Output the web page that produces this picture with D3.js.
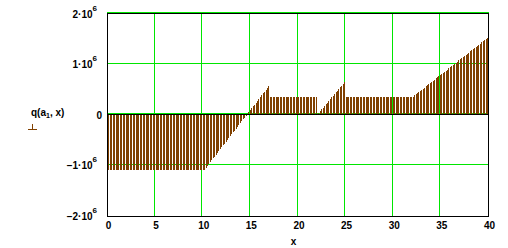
<!DOCTYPE html>
<html>
<head>
<meta charset="utf-8">
<script src="https://cdn.jsdelivr.net/npm/d3@7"></script>
<style>
body { margin: 0; background: #fff; }
text { font-family: "Liberation Sans", Arial, sans-serif; font-weight: bold; font-size: 10px; fill: #000; }
</style>
</head>
<body>
<svg id="chart" width="508" height="248"></svg>
<script>
// sample positions x (range variable 0, 0.15 .. 39.9)
var xVals = [
  0,0.15,0.3,0.45,0.6,0.75,0.9,1.05,1.2,1.35,1.5,1.65,1.8,1.95,2.1,2.25,2.4,2.55,2.7,2.85,
  3,3.15,3.3,3.45,3.6,3.75,3.9,4.05,4.2,4.35,4.5,4.65,4.8,4.95,5.1,5.25,5.4,5.55,5.7,5.85,
  6,6.15,6.3,6.45,6.6,6.75,6.9,7.05,7.2,7.35,7.5,7.65,7.8,7.95,8.1,8.25,8.4,8.55,8.7,8.85,
  9,9.15,9.3,9.45,9.6,9.75,9.9,10.05,10.2,10.35,10.5,10.65,10.8,10.95,11.1,11.25,11.4,11.55,11.7,11.85,
  12,12.15,12.3,12.45,12.6,12.75,12.9,13.05,13.2,13.35,13.5,13.65,13.8,13.95,14.1,14.25,14.4,14.55,14.7,14.85,
  15,15.15,15.3,15.45,15.6,15.75,15.9,16.05,16.2,16.35,16.5,16.65,16.8,16.95,17.1,17.25,17.4,17.55,17.7,17.85,
  18,18.15,18.3,18.45,18.6,18.75,18.9,19.05,19.2,19.35,19.5,19.65,19.8,19.95,20.1,20.25,20.4,20.55,20.7,20.85,
  21,21.15,21.3,21.45,21.6,21.75,21.9,22.05,22.2,22.35,22.5,22.65,22.8,22.95,23.1,23.25,23.4,23.55,23.7,23.85,
  24,24.15,24.3,24.45,24.6,24.75,24.9,25.05,25.2,25.35,25.5,25.65,25.8,25.95,26.1,26.25,26.4,26.55,26.7,26.85,
  27,27.15,27.3,27.45,27.6,27.75,27.9,28.05,28.2,28.35,28.5,28.65,28.8,28.95,29.1,29.25,29.4,29.55,29.7,29.85,
  30,30.15,30.3,30.45,30.6,30.75,30.9,31.05,31.2,31.35,31.5,31.65,31.8,31.95,32.1,32.25,32.4,32.55,32.7,32.85,
  33,33.15,33.3,33.45,33.6,33.75,33.9,34.05,34.2,34.35,34.5,34.65,34.8,34.95,35.1,35.25,35.4,35.55,35.7,35.85,
  36,36.15,36.3,36.45,36.6,36.75,36.9,37.05,37.2,37.35,37.5,37.65,37.8,37.95,38.1,38.25,38.4,38.55,38.7,38.85,
  39,39.15,39.3,39.45,39.6,39.75,39.9
];

// q(a1, x) in units of 10^6
var qVals = [
  -1.09,-1.09,-1.09,-1.09,-1.09,-1.09,-1.09,-1.09,-1.09,-1.09,
  -1.09,-1.09,-1.09,-1.09,-1.09,-1.09,-1.09,-1.09,-1.09,-1.09,
  -1.09,-1.09,-1.09,-1.09,-1.09,-1.09,-1.09,-1.09,-1.09,-1.09,
  -1.09,-1.09,-1.09,-1.09,-1.09,-1.09,-1.09,-1.09,-1.09,-1.09,
  -1.09,-1.09,-1.09,-1.09,-1.09,-1.09,-1.09,-1.09,-1.09,-1.09,
  -1.09,-1.09,-1.09,-1.09,-1.09,-1.09,-1.09,-1.09,-1.09,-1.09,
  -1.09,-1.09,-1.09,-1.09,-1.09,-1.09,-1.09,-1.09,-1.09,
  -1.054,-1.017,-0.980,-0.943,-0.907,-0.870,-0.833,-0.796,-0.760,-0.723,
  -0.686,-0.649,-0.613,-0.576,-0.539,-0.502,-0.466,-0.429,-0.392,-0.355,
  -0.319,-0.282,-0.245,-0.208,-0.172,-0.135,-0.098,-0.061,-0.025,0.012,
  0.049,0.086,0.123,0.159,0.196,0.233,0.270,0.306,0.343,0.380,
  0.417,0.453,0.490,0.527,0.564,
  0.355,0.355,0.355,0.355,0.355,0.355,0.355,0.355,0.355,0.355,
  0.355,0.355,0.355,0.355,0.355,0.355,0.355,0.355,0.355,0.355,
  0.355,0.355,0.355,0.355,0.355,0.355,0.355,0.355,0.355,0.355,
  0.355,0.355,0.355,
  0,
  0.034,0.068,0.101,0.135,0.169,0.203,0.236,0.270,0.304,0.338,
  0.371,0.405,0.439,0.473,0.506,0.540,0.574,0.608,0.641,
  0.355,0.355,0.355,0.355,0.355,0.355,0.355,0.355,0.355,0.355,
  0.355,0.355,0.355,0.355,0.355,0.355,0.355,0.355,0.355,0.355,
  0.355,0.355,0.355,0.355,0.355,0.355,0.355,0.355,0.355,0.355,
  0.355,0.355,0.355,0.355,0.355,0.355,0.355,0.355,0.355,0.355,
  0.355,0.355,0.355,0.355,0.355,0.355,0.355,0.355,
  0.377,0.400,0.422,0.444,0.467,0.489,0.511,0.534,0.556,0.579,
  0.601,0.623,0.646,0.668,0.690,0.713,0.735,0.757,0.780,0.802,
  0.824,0.847,0.869,0.891,0.914,0.936,0.958,0.981,1.003,1.026,
  1.048,1.070,1.093,1.115,1.137,1.160,1.182,1.204,1.227,1.249,
  1.271,1.294,1.316,1.338,1.361,1.383,1.405,1.428,1.450,1.472,
  1.495,1.517
];

var xTicks = [0, 5, 10, 15, 20, 25, 30, 35, 40];
var yTicks = [2, 1, 0, -1, -2];          // x 10^6
var yTickText = ["2·10", "1·10", "0", "−1·10", "−2·10"];

var brown = "#804000", green = "#00e600";

var svg = d3.select("#chart");

var x = d3.scaleLinear().domain([0, 40]).range([107.5, 488.5]);
var y = d3.scaleLinear().domain([-2, 2]).range([215.5, 13.5]);

// green grid (drawn one pixel above / left like the original)
svg.append("g").selectAll("line")
  .data(yTicks.filter(function(d) { return d > -2; }))
  .join("line")
    .attr("x1", 107).attr("x2", 489)
    .attr("y1", function(d) { return Math.floor(y(d)) - 0.5; })
    .attr("y2", function(d) { return Math.floor(y(d)) - 0.5; })
    .attr("stroke", green);

svg.append("g").selectAll("line")
  .data(xTicks.filter(function(d) { return d > 0 && d < 40; }))
  .join("line")
    .attr("x1", function(d) { return Math.floor(x(d)) - 0.5; })
    .attr("x2", function(d) { return Math.floor(x(d)) - 0.5; })
    .attr("y1", 12).attr("y2", 216)
    .attr("stroke", green);

// impulse bars
var pts = d3.zip(xVals, qVals);
var y0 = y(0);
svg.append("g").attr("shape-rendering", "crispEdges")
  .selectAll("rect")
  .data(pts)
  .join("rect")
    .attr("x", function(d) { return Math.floor(x(d[0])); })
    .attr("width", 1)
    .attr("y", function(d) { return d[1] >= 0 ? Math.round(y(d[1])) : Math.ceil(y0); })
    .attr("height", function(d) {
      return d[1] >= 0 ? Math.max(0, Math.floor(y0) - Math.round(y(d[1])))
                       : Math.max(0, Math.round(y(d[1])) - Math.ceil(y0));
    })
    .attr("fill", brown);

// black frame and zero line
var frame = svg.append("g").attr("stroke", "#000").attr("shape-rendering", "crispEdges");
frame.append("rect")
  .attr("x", 107.5).attr("y", 13.5)
  .attr("width", 381).attr("height", 203)
  .attr("fill", "none");
frame.append("line")
  .attr("x1", 107).attr("x2", 489)
  .attr("y1", Math.floor(y0) + 0.5).attr("y2", Math.floor(y0) + 0.5);

// y tick labels
yTicks.forEach(function(v, i) {
  var t = svg.append("text")
    .attr("text-anchor", "end")
    .attr("x", v === 0 ? 102 : 97)
    .attr("y", y(v) + 4)
    .text(yTickText[i]);
  if (v !== 0) {
    t.append("tspan").attr("dy", -7).style("font-size", "8px").text("6");
  }
});

// x tick labels
svg.append("g").selectAll("text")
  .data(xTicks)
  .join("text")
    .attr("text-anchor", "middle")
    .attr("x", function(d) { return x(d) + 1; })
    .attr("y", 229)
    .text(function(d) { return d; });

// axis titles
svg.append("text")
  .attr("x", 293.5).attr("y", 245)
  .attr("text-anchor", "middle")
  .text("x");

var yl = svg.append("text")
  .attr("x", 31).attr("y", 116)
  .style("font-size", "10px");
yl.append("tspan").text("q(a");
yl.append("tspan").attr("dy", 2).style("font-size", "7px").text("1");
yl.append("tspan").attr("dy", -2).text(", x)");

// legend marker
svg.append("line")
  .attr("x1", 28).attr("x2", 37).attr("y1", 129.5).attr("y2", 129.5)
  .attr("stroke", brown);
svg.append("line")
  .attr("x1", 32.5).attr("x2", 32.5).attr("y1", 124).attr("y2", 129.5)
  .attr("stroke", brown);
</script>
</body>
</html>
